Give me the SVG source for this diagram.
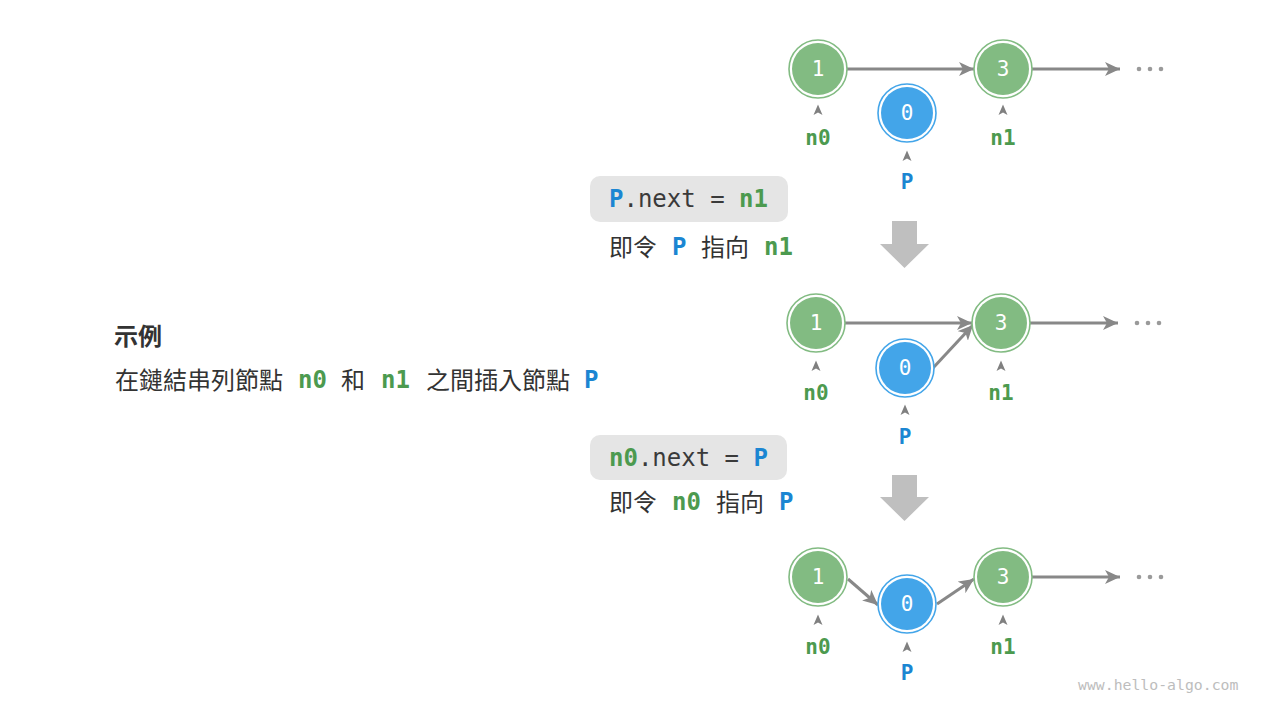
<svg xmlns="http://www.w3.org/2000/svg" width="1280" height="720" viewBox="0 0 1280 720">
<style>
  .ring-g{fill:#ffffff;stroke:#82bb82;stroke-width:1.6}
  .fill-g{fill:#82bb82}
  .ring-b{fill:#ffffff;stroke:#43a5e9;stroke-width:1.6}
  .fill-b{fill:#43a5e9}
  .num{font-family:"DejaVu Sans Mono","Liberation Mono",monospace;font-size:21px;fill:#ffffff;text-anchor:middle}
  .lbl{font-family:"DejaVu Sans Mono","Liberation Mono",monospace;font-size:21px;font-weight:bold;text-anchor:middle}
  .g{fill:#4c9a4f}
  .b{fill:#1b86d2}
  .code{font-family:"DejaVu Sans Mono","Liberation Mono",monospace;font-size:24px;fill:#3a3a3a;white-space:pre}
  .mono{font-family:"DejaVu Sans Mono","Liberation Mono",monospace;font-size:24px;font-weight:bold}
  .cjk{font-family:"Noto Sans CJK TC","Noto Sans CJK SC",sans-serif;font-size:24px;fill:#333333}
  .edge{stroke:#888888;stroke-width:3;fill:none;marker-end:url(#ah)}
  .caret{fill:#808080}
  .dot{fill:#9a9a9a}
  .box{fill:#e5e5e5}
  .big{fill:#bfbfbf}
</style>
<defs>
  <marker id="ah" markerUnits="userSpaceOnUse" markerWidth="16" markerHeight="14" refX="15" refY="7" orient="auto">
    <path d="M0,0 L15,7 L0,14 L4,7 Z" fill="#888888"/>
  </marker>
  <path id="car" d="M-4.5,5 L0,-5.5 L4.5,5 L0,2.5 Z"/>
</defs>

<!-- connectors -->
<g id="connectors">
  <line class="edge" x1="847" y1="69" x2="974" y2="69"/>
  <line class="edge" x1="1032" y1="69" x2="1120" y2="69"/>
  <line class="edge" x1="845" y1="323" x2="972" y2="323"/>
  <line class="edge" x1="933" y1="368" x2="973" y2="325"/>
  <line class="edge" x1="1030" y1="323" x2="1118" y2="323"/>
  <line class="edge" x1="848" y1="579" x2="878" y2="605"/>
  <line class="edge" x1="937" y1="604" x2="974" y2="579"/>
  <line class="edge" x1="1032" y1="577" x2="1120" y2="577"/>
</g>

<!-- row 1 -->
<g id="r1-n1"><circle class="ring-g" cx="818" cy="69" r="29"/><circle class="fill-g" cx="818" cy="69" r="26"/><text class="num" x="818" y="76">1</text></g>
<g id="r1-n0"><circle class="ring-b" cx="907" cy="113" r="29"/><circle class="fill-b" cx="907" cy="113" r="26"/><text class="num" x="907" y="120">0</text></g>
<g id="r1-n3"><circle class="ring-g" cx="1003" cy="69" r="29"/><circle class="fill-g" cx="1003" cy="69" r="26"/><text class="num" x="1003" y="76">3</text></g>
<g id="r1-dots"><circle class="dot" cx="1139" cy="69" r="2.3"/><circle class="dot" cx="1150" cy="69" r="2.3"/><circle class="dot" cx="1161" cy="69" r="2.3"/></g>
<g id="r1-labels">
  <use href="#car" class="caret" x="818" y="110"/>
  <use href="#car" class="caret" x="1003" y="110"/>
  <use href="#car" class="caret" x="907" y="156"/>
  <text class="lbl g" x="818" y="145">n0</text>
  <text class="lbl g" x="1003" y="145">n1</text>
  <text class="lbl b" x="907" y="189">P</text>
</g>

<!-- step 1 -->
<g id="step1">
  <rect class="box" x="590" y="176" width="198" height="46" rx="10"/>
  <text class="code" x="609" y="207"><tspan class="b" font-weight="bold">P</tspan>.next = <tspan class="g" font-weight="bold">n1</tspan></text>
  <text class="cjk" x="609" y="256">即令</text>
  <text class="mono b" x="672" y="255">P</text>
  <text class="cjk" x="701" y="256">指向</text>
  <text class="mono g" x="764" y="255">n1</text>
  <path class="big" d="M892,221 H917 V244 H929 L904.5,268 L880,244 H892 Z"/>
</g>

<!-- row 2 -->
<g id="r2-n1"><circle class="ring-g" cx="816" cy="323" r="29"/><circle class="fill-g" cx="816" cy="323" r="26"/><text class="num" x="816" y="330">1</text></g>
<g id="r2-n0"><circle class="ring-b" cx="905" cy="368" r="29"/><circle class="fill-b" cx="905" cy="368" r="26"/><text class="num" x="905" y="375">0</text></g>
<g id="r2-n3"><circle class="ring-g" cx="1001" cy="323" r="29"/><circle class="fill-g" cx="1001" cy="323" r="26"/><text class="num" x="1001" y="330">3</text></g>
<g id="r2-dots"><circle class="dot" cx="1137" cy="323" r="2.3"/><circle class="dot" cx="1148" cy="323" r="2.3"/><circle class="dot" cx="1159" cy="323" r="2.3"/></g>
<g id="r2-labels">
  <use href="#car" class="caret" x="816" y="366"/>
  <use href="#car" class="caret" x="1001" y="366"/>
  <use href="#car" class="caret" x="905" y="410"/>
  <text class="lbl g" x="816" y="400">n0</text>
  <text class="lbl g" x="1001" y="400">n1</text>
  <text class="lbl b" x="905" y="444">P</text>
</g>

<!-- step 2 -->
<g id="step2">
  <rect class="box" x="590" y="435" width="197" height="45" rx="10"/>
  <text class="code" x="609" y="466"><tspan class="g" font-weight="bold">n0</tspan>.next = <tspan class="b" font-weight="bold">P</tspan></text>
  <text class="cjk" x="609" y="511">即令</text>
  <text class="mono g" x="672" y="510">n0</text>
  <text class="cjk" x="716" y="511">指向</text>
  <text class="mono b" x="779" y="510">P</text>
  <path class="big" d="M892,475 H917 V497 H929 L904.5,521 L880,497 H892 Z"/>
</g>

<!-- row 3 -->
<g id="r3-n1"><circle class="ring-g" cx="818" cy="577" r="29"/><circle class="fill-g" cx="818" cy="577" r="26"/><text class="num" x="818" y="584">1</text></g>
<g id="r3-n0"><circle class="ring-b" cx="907" cy="604" r="29"/><circle class="fill-b" cx="907" cy="604" r="26"/><text class="num" x="907" y="611">0</text></g>
<g id="r3-n3"><circle class="ring-g" cx="1003" cy="577" r="29"/><circle class="fill-g" cx="1003" cy="577" r="26"/><text class="num" x="1003" y="584">3</text></g>
<g id="r3-dots"><circle class="dot" cx="1139" cy="577" r="2.3"/><circle class="dot" cx="1150" cy="577" r="2.3"/><circle class="dot" cx="1161" cy="577" r="2.3"/></g>
<g id="r3-labels">
  <use href="#car" class="caret" x="818" y="620"/>
  <use href="#car" class="caret" x="1003" y="620"/>
  <use href="#car" class="caret" x="907" y="647"/>
  <text class="lbl g" x="818" y="654">n0</text>
  <text class="lbl g" x="1003" y="654">n1</text>
  <text class="lbl b" x="907" y="680">P</text>
</g>

<!-- description -->
<g id="description">
  <text class="cjk" x="114" y="345" font-weight="bold" font-size="26">示例</text>
  <text class="cjk" x="115" y="389">在鏈結串列節點</text>
  <text class="mono g" x="298" y="388">n0</text>
  <text class="cjk" x="341" y="389">和</text>
  <text class="mono g" x="381" y="388">n1</text>
  <text class="cjk" x="426" y="389">之間插入節點</text>
  <text class="mono b" x="584" y="388">P</text>
</g>

<text x="1078" y="690" font-family="DejaVu Sans Mono, Liberation Mono, monospace" font-size="14.8" fill="#bdbdbd">www.hello-algo.com</text>
</svg>
